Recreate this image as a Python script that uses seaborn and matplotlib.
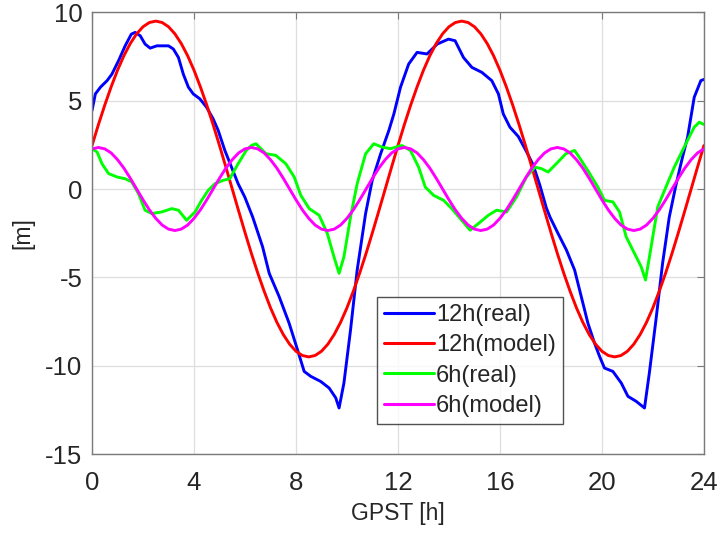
import numpy as np
import pandas as pd
import matplotlib
matplotlib.use("Agg")
import matplotlib.pyplot as plt
import seaborn as sns

# 12h real (hours, metres)
real12_t = [0, 0.13, 0.33, 0.59, 0.78, 1.04, 1.30, 1.54, 1.69, 1.89, 2.08, 2.28, 2.54, 3.0,
            3.19, 3.39, 3.58, 3.78, 3.97, 4.23, 4.49, 4.75, 4.95, 5.21, 5.47, 5.73, 5.99, 6.3,
            6.69, 6.95, 7.34, 7.73, 8.06, 8.32, 8.58, 8.97, 9.30, 9.56, 9.69, 9.88, 10.14, 10.40,
            10.73, 10.99, 11.32, 11.64, 11.84, 12.1, 12.42, 12.75, 13.14, 13.54, 13.98, 14.24,
            14.57, 14.9, 15.29, 15.68, 15.94, 16.13, 16.39, 16.72, 17.04, 17.3, 17.56, 17.82,
            17.96, 18.28, 18.61, 18.93, 19.19, 19.45, 19.71, 19.91, 20.1, 20.43, 20.76, 21.02,
            21.34, 21.67, 21.86, 22.12, 22.38, 22.64, 22.9, 23.16, 23.36, 23.62, 23.88, 24.0]
real12_v = [4.44, 5.38, 5.76, 6.13, 6.5, 7.26, 8.1, 8.76, 8.86, 8.67, 8.2, 7.97, 8.1, 8.1,
            7.92, 7.44, 6.5, 5.76, 5.38, 5.1, 4.63, 3.97, 3.31, 2.18, 1.24, 0.3, -0.45, -1.58,
            -3.27, -4.77, -6.09, -7.59, -9.1, -10.32, -10.6, -10.89, -11.26, -11.82, -12.39, -10.98, -7.97, -4.59,
            -1.39, 0.49, 1.99, 3.3, 4.25, 5.76, 7.07, 7.73, 7.64, 8.2, 8.48, 8.39,
            7.44, 6.88, 6.6, 6.13, 5.38, 4.25, 3.5, 2.97, 2.12, 1.37, 0.24, -1.07,
            -1.58, -2.52, -3.46, -4.59, -6.09, -7.59, -8.72, -9.48, -10.13, -10.32, -10.98, -11.73,
            -12.01, -12.39, -10.41, -7.4, -4.2, -1.6, 0.2, 1.8, 2.93, 5.19, 6.13, 6.2]

# 12h model, every 0.25 h
model12_t = np.arange(0, 24.01, 0.25)
model12_v = [2.46, 3.64, 4.75, 5.78, 6.72, 7.54, 8.23, 8.78, 9.18, 9.42, 9.5, 9.42,
             9.18, 8.78, 8.23, 7.54, 6.72, 5.78, 4.75, 3.64, 2.46, 1.24, 0.0, -1.24,
             -2.46, -3.64, -4.75, -5.78, -6.72, -7.54, -8.23, -8.78, -9.18, -9.42, -9.5, -9.42,
             -9.18, -8.78, -8.23, -7.54, -6.72, -5.78, -4.75, -3.64, -2.46, -1.24, 0.0, 1.24,
             2.46, 3.64, 4.75, 5.78, 6.72, 7.54, 8.23, 8.78, 9.18, 9.42, 9.5, 9.42,
             9.18, 8.78, 8.23, 7.54, 6.72, 5.78, 4.75, 3.64, 2.46, 1.24, 0.0, -1.24,
             -2.46, -3.64, -4.75, -5.78, -6.72, -7.54, -8.23, -8.78, -9.18, -9.42, -9.5, -9.42,
             -9.18, -8.78, -8.23, -7.54, -6.72, -5.78, -4.75, -3.64, -2.46, -1.24, 0.0, 1.24,
             2.46]

# 6h real
real6_t = [0, 0.2, 0.39, 0.65, 0.98, 1.3, 1.56, 1.82, 2.08, 2.34, 2.73, 3.13, 3.39, 3.71,
           4.04, 4.3, 4.56, 4.82, 5.14, 5.4, 5.73, 6.05, 6.25, 6.43, 6.82, 7.21, 7.6, 7.93,
           8.19, 8.52, 8.91, 9.23, 9.49, 9.69, 9.88, 10.14, 10.40, 10.73, 11.05, 11.38, 11.71,
           12.03, 12.16, 12.49, 12.81, 13.07, 13.4, 13.79, 14.11, 14.44, 14.83, 15.16, 15.55,
           15.87, 16.26, 16.65, 17.04, 17.37, 17.63, 17.89, 18.21, 18.59, 18.93, 19.19, 19.52,
           19.84, 20.1, 20.43, 20.69, 20.95, 21.28, 21.54, 21.71, 21.93, 22.19, 22.51, 22.84,
           23.16, 23.42, 23.62, 23.82, 24.0]
real6_v = [2.28, 2.09, 1.43, 0.87, 0.68, 0.58, 0.4, -0.26, -1.2, -1.39, -1.3, -1.11, -1.2, -1.77,
           -1.3, -0.64, -0.07, 0.3, 0.49, 0.58, 1.43, 2.18, 2.46, 2.56, 2.0, 1.9, 1.43, 0.68,
           -0.36, -1.11, -1.49, -2.52, -3.84, -4.77, -3.84, -1.58, 0.3, 1.99, 2.56, 2.37, 2.28,
           2.42, 2.46, 2.18, 1.24, 0.11, -0.36, -0.64, -1.11, -1.67, -2.33, -1.95, -1.48,
           -1.2, -1.3, -0.45, 0.68, 1.24, 1.15, 0.96, 1.43, 2.0, 2.18, 1.62, 0.87,
           0.11, -0.64, -0.73, -1.3, -2.7, -3.65, -4.4, -5.15, -3.27, -1.01, 0.11, 1.24,
           2.18, 2.93, 3.5, 3.78, 3.65]

# 6h model, every 0.25 h
model6_t = np.arange(0, 24.01, 0.25)
model6_v = [2.27, 2.35, 2.27, 2.04, 1.66, 1.18, 0.61, 0.0, -0.61, -1.18, -1.66, -2.04,
            -2.27, -2.35, -2.27, -2.04, -1.66, -1.18, -0.61, 0.0, 0.61, 1.18, 1.66, 2.04,
            2.27, 2.35, 2.27, 2.04, 1.66, 1.18, 0.61, 0.0, -0.61, -1.18, -1.66, -2.04,
            -2.27, -2.35, -2.27, -2.04, -1.66, -1.18, -0.61, 0.0, 0.61, 1.18, 1.66, 2.04,
            2.27, 2.35, 2.27, 2.04, 1.66, 1.18, 0.61, 0.0, -0.61, -1.18, -1.66, -2.04,
            -2.27, -2.35, -2.27, -2.04, -1.66, -1.18, -0.61, 0.0, 0.61, 1.18, 1.66, 2.04,
            2.27, 2.35, 2.27, 2.04, 1.66, 1.18, 0.61, 0.0, -0.61, -1.18, -1.66, -2.04,
            -2.27, -2.35, -2.27, -2.04, -1.66, -1.18, -0.61, 0.0, 0.61, 1.18, 1.66, 2.04,
            2.27]

labels = ["12h(real)", "12h(model)", "6h(real)", "6h(model)"]
colors = ["#0000ff", "#ff0000", "#00ff00", "#ff00ff"]

xticks = [0, 4, 8, 12, 16, 20, 24]
yticks = [-15, -10, -5, 0, 5, 10]

sns.set_style("white")
plt.rcParams["font.family"] = ["Liberation Sans", "DejaVu Sans"]
plt.rcParams["axes.unicode_minus"] = False

fig = plt.figure(figsize=(7.19, 5.33), dpi=100)
ax = fig.add_axes([0.128, 0.148, 0.851, 0.829])

series = [(real12_t, real12_v), (model12_t, model12_v), (real6_t, real6_v), (model6_t, model6_v)]
for (t, v), lab, col in zip(series, labels, colors):
    sns.lineplot(x=t, y=v, ax=ax, color=col, linewidth=2.1, label=lab, sort=False)

ax.set_xlim(0, 24)
ax.set_ylim(-15, 10)
ax.set_xticks(xticks)
ax.set_yticks(yticks)
ax.grid(True, color="#dedede", linewidth=0.9)
ax.set_axisbelow(True)

for s in ax.spines.values():
    s.set_color("#7a7a7a")
    s.set_linewidth(1.0)
    s.set_visible(True)

ax.tick_params(direction="in", length=5, width=0.8, color="#7a7a7a",
               top=True, right=True, labelsize=18.5, labelcolor="#262626")
ax.tick_params(axis="x", pad=12)
ax.tick_params(axis="y", pad=7)

ax.set_xlabel("GPST [h]", fontsize=16.5, color="#262626", labelpad=5)
ax.set_ylabel("[m]", fontsize=16.5, color="#262626", labelpad=8)

leg = ax.legend(loc="lower left", bbox_to_anchor=(0.466, 0.068), borderaxespad=0,
                fontsize=17, handlelength=2.1, handletextpad=0.1, labelspacing=0.35,
                borderpad=0.3, frameon=True, fancybox=False)
leg.get_frame().set_edgecolor("#262626")
leg.get_frame().set_linewidth(1.0)
for h in leg.get_lines():
    h.set_linewidth(2.2)

plt.savefig("out.png", dpi=100)
plt.close()
